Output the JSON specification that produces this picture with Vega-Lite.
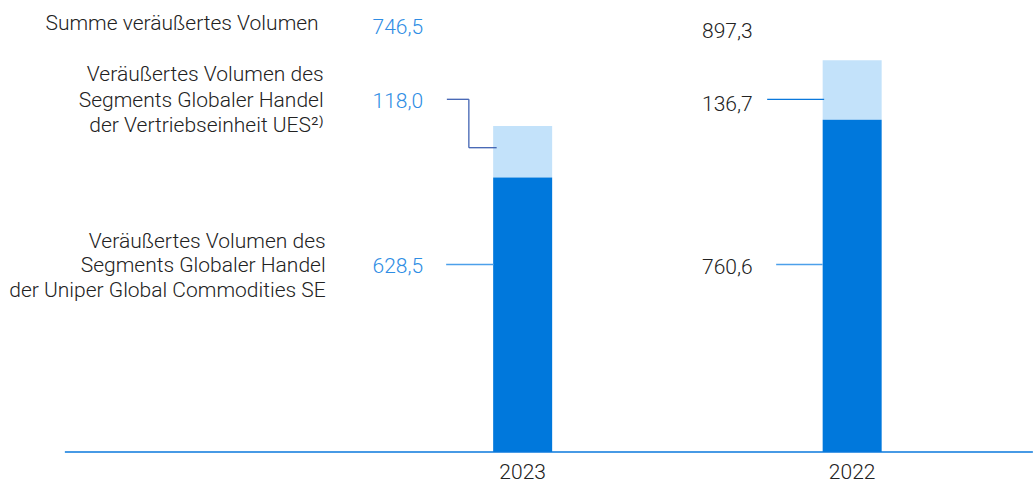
{
  "$schema": "https://vega.github.io/schema/vega-lite/v6.json",
  "width": 1033,
  "height": 452,
  "autosize": "none",
  "padding": {"left": 0, "top": 0, "right": 0, "bottom": 31},
  "config": {
    "view": {"stroke": null},
    "font": "Roboto",
    "locale": {"number": {"decimal": ",", "thousands": ".", "grouping": [3], "currency": ["", " €"]}}
  },
  "datasets": {
    "volumes": [
      {"year": "2023", "segment": "Summe", "value": 746.5},
      {"year": "2023", "segment": "UES", "value": 118.0},
      {"year": "2023", "segment": "UGC", "value": 628.5},
      {"year": "2022", "segment": "Summe", "value": 897.3},
      {"year": "2022", "segment": "UES", "value": 136.7},
      {"year": "2022", "segment": "UGC", "value": 760.6}
    ],
    "labels": [
      {"row": "Summe", "label": ["Summe veräußertes Volumen"]},
      {"row": "UES", "label": ["Veräußertes Volumen des", "Segments Globaler Handel", "der Vertriebseinheit UES²⁾"]},
      {"row": "UGC", "label": ["Veräußertes Volumen des", "Segments Globaler Handel", "der Uniper Global Commodities SE"]}
    ]
  },
  "data": {"name": "volumes"},
  "encoding": {
    "x": {
      "field": "year",
      "type": "nominal",
      "sort": ["2023", "2022"],
      "scale": {"domain": ["2023", "2022"], "paddingInner": 0, "paddingOuter": 0.5675, "align": 0.957},
      "axis": {"title": null, "domain": false, "ticks": false, "labelAngle": 0, "labelFontSize": 21, "labelFont": "Roboto", "labelFontWeight": 300, "labelColor": "#222222", "labelPadding": 9}
    }
  },
  "layer": [
    {
      "transform": [{"filter": "datum.segment !== 'Summe'"}],
      "mark": {"type": "bar", "size": 59},
      "encoding": {
        "y": {"field": "value", "type": "quantitative", "stack": "zero", "scale": {"domain": [0, 1035], "nice": false, "zero": true}, "axis": null},
        "color": {"field": "segment", "type": "nominal", "scale": {"domain": ["UGC", "UES"], "range": ["#0078dc", "#c3e2fa"]}, "legend": null},
        "order": {"field": "segment", "type": "nominal", "sort": "descending"}
      }
    },
    {
      "transform": [{"filter": "datum.segment === 'Summe' && datum.year === '2023'"}],
      "mark": {"type": "rule", "color": "#0a78dc", "strokeWidth": 1.5, "xOffset": -457.8, "x2Offset": 180.7},
      "encoding": {"x": {"datum": "2023"}, "x2": {"datum": "2022"}, "y": {"datum": 0}}
    },
    {
      "data": {"name": "labels"},
      "transform": [{"filter": "datum.row === 'Summe'"}],
      "mark": {"type": "text", "align": "right", "baseline": "middle", "dx": -204, "fontSize": 21, "fontWeight": 300, "color": "#222222"},
      "encoding": {"x": {"datum": "2023"}, "y": {"datum": 980}, "text": {"field": "label"}}
    },
    {
      "data": {"name": "labels"},
      "transform": [{"filter": "datum.row === 'UES'"}],
      "mark": {"type": "text", "align": "right", "baseline": "middle", "dx": -199, "fontSize": 21, "fontWeight": 300, "color": "#222222", "lineHeight": 25.5},
      "encoding": {"x": {"datum": "2023"}, "y": {"datum": 863}, "text": {"field": "label"}}
    },
    {
      "data": {"name": "labels"},
      "transform": [{"filter": "datum.row === 'UGC'"}],
      "mark": {"type": "text", "align": "right", "baseline": "middle", "dx": -197, "fontSize": 21, "fontWeight": 300, "color": "#222222", "lineHeight": 24.5},
      "encoding": {"x": {"datum": "2023"}, "y": {"datum": 481}, "text": {"field": "label"}}
    },
    {
      "transform": [{"filter": "datum.segment === 'Summe' && datum.year === '2023'"}],
      "mark": {"type": "text", "align": "right", "baseline": "middle", "dx": -99.5, "fontSize": 21, "fontWeight": 300, "color": "#2e8de4"},
      "encoding": {"y": {"datum": 971}, "text": {"field": "value", "type": "quantitative", "format": ".1f"}}
    },
    {
      "transform": [{"filter": "datum.segment === 'Summe' && datum.year === '2022'"}],
      "mark": {"type": "text", "align": "right", "baseline": "middle", "dx": -99.5, "fontSize": 21, "fontWeight": 300, "color": "#222222"},
      "encoding": {"y": {"datum": 961}, "text": {"field": "value", "type": "quantitative", "format": ".1f"}}
    },
    {
      "transform": [{"filter": "datum.segment === 'UES' && datum.year === '2023'"}],
      "mark": {"type": "text", "align": "right", "baseline": "middle", "dx": -99.5, "fontSize": 21, "fontWeight": 300, "color": "#2e8de4"},
      "encoding": {"y": {"datum": 802}, "text": {"field": "value", "type": "quantitative", "format": ".1f"}}
    },
    {
      "transform": [{"filter": "datum.segment === 'UES' && datum.year === '2022'"}],
      "mark": {"type": "text", "align": "right", "baseline": "middle", "dx": -99.5, "fontSize": 21, "fontWeight": 300, "color": "#222222"},
      "encoding": {"y": {"datum": 794}, "text": {"field": "value", "type": "quantitative", "format": ".1f"}}
    },
    {
      "transform": [{"filter": "datum.segment === 'UGC' && datum.year === '2023'"}],
      "mark": {"type": "text", "align": "right", "baseline": "middle", "dx": -99.5, "fontSize": 21, "fontWeight": 300, "color": "#2e8de4"},
      "encoding": {"y": {"datum": 424}, "text": {"field": "value", "type": "quantitative", "format": ".1f"}}
    },
    {
      "transform": [{"filter": "datum.segment === 'UGC' && datum.year === '2022'"}],
      "mark": {"type": "text", "align": "right", "baseline": "middle", "dx": -99.5, "fontSize": 21, "fontWeight": 300, "color": "#222222"},
      "encoding": {"y": {"datum": 422}, "text": {"field": "value", "type": "quantitative", "format": ".1f"}}
    },
    {
      "transform": [{"filter": "datum.segment === 'UES' && datum.year === '2023'"}],
      "mark": {"type": "rule", "color": "#4163b3", "strokeWidth": 1.3, "xOffset": -75.8, "x2Offset": -53.8},
      "encoding": {"x2": {"field": "year"}, "y": {"datum": 807.6}}
    },
    {
      "transform": [{"filter": "datum.segment === 'UES' && datum.year === '2023'"}],
      "mark": {"type": "rule", "color": "#4163b3", "strokeWidth": 1.3, "xOffset": -53.8},
      "encoding": {"y": {"datum": 807.6}, "y2": {"datum": 696.8}}
    },
    {
      "transform": [{"filter": "datum.segment === 'UES' && datum.year === '2023'"}],
      "mark": {"type": "rule", "color": "#4163b3", "strokeWidth": 1.3, "xOffset": -53.8, "x2Offset": -26},
      "encoding": {"x2": {"field": "year"}, "y": {"datum": 696.8}}
    },
    {
      "transform": [{"filter": "datum.segment === 'UGC' && datum.year === '2023'"}],
      "mark": {"type": "rule", "color": "#4ca0ea", "strokeWidth": 1.3, "xOffset": -76.5, "x2Offset": -29},
      "encoding": {"x2": {"field": "year"}, "y": {"datum": 429.3}}
    },
    {
      "transform": [{"filter": "datum.segment === 'UES' && datum.year === '2022'"}],
      "mark": {"type": "rule", "color": "#0a78dc", "strokeWidth": 1.3, "xOffset": -85, "x2Offset": -28},
      "encoding": {"x2": {"field": "year"}, "y": {"datum": 807.6}}
    },
    {
      "transform": [{"filter": "datum.segment === 'UGC' && datum.year === '2022'"}],
      "mark": {"type": "rule", "color": "#4ca0ea", "strokeWidth": 1.3, "xOffset": -76, "x2Offset": -29.5},
      "encoding": {"x2": {"field": "year"}, "y": {"datum": 429.3}}
    }
  ]
}
